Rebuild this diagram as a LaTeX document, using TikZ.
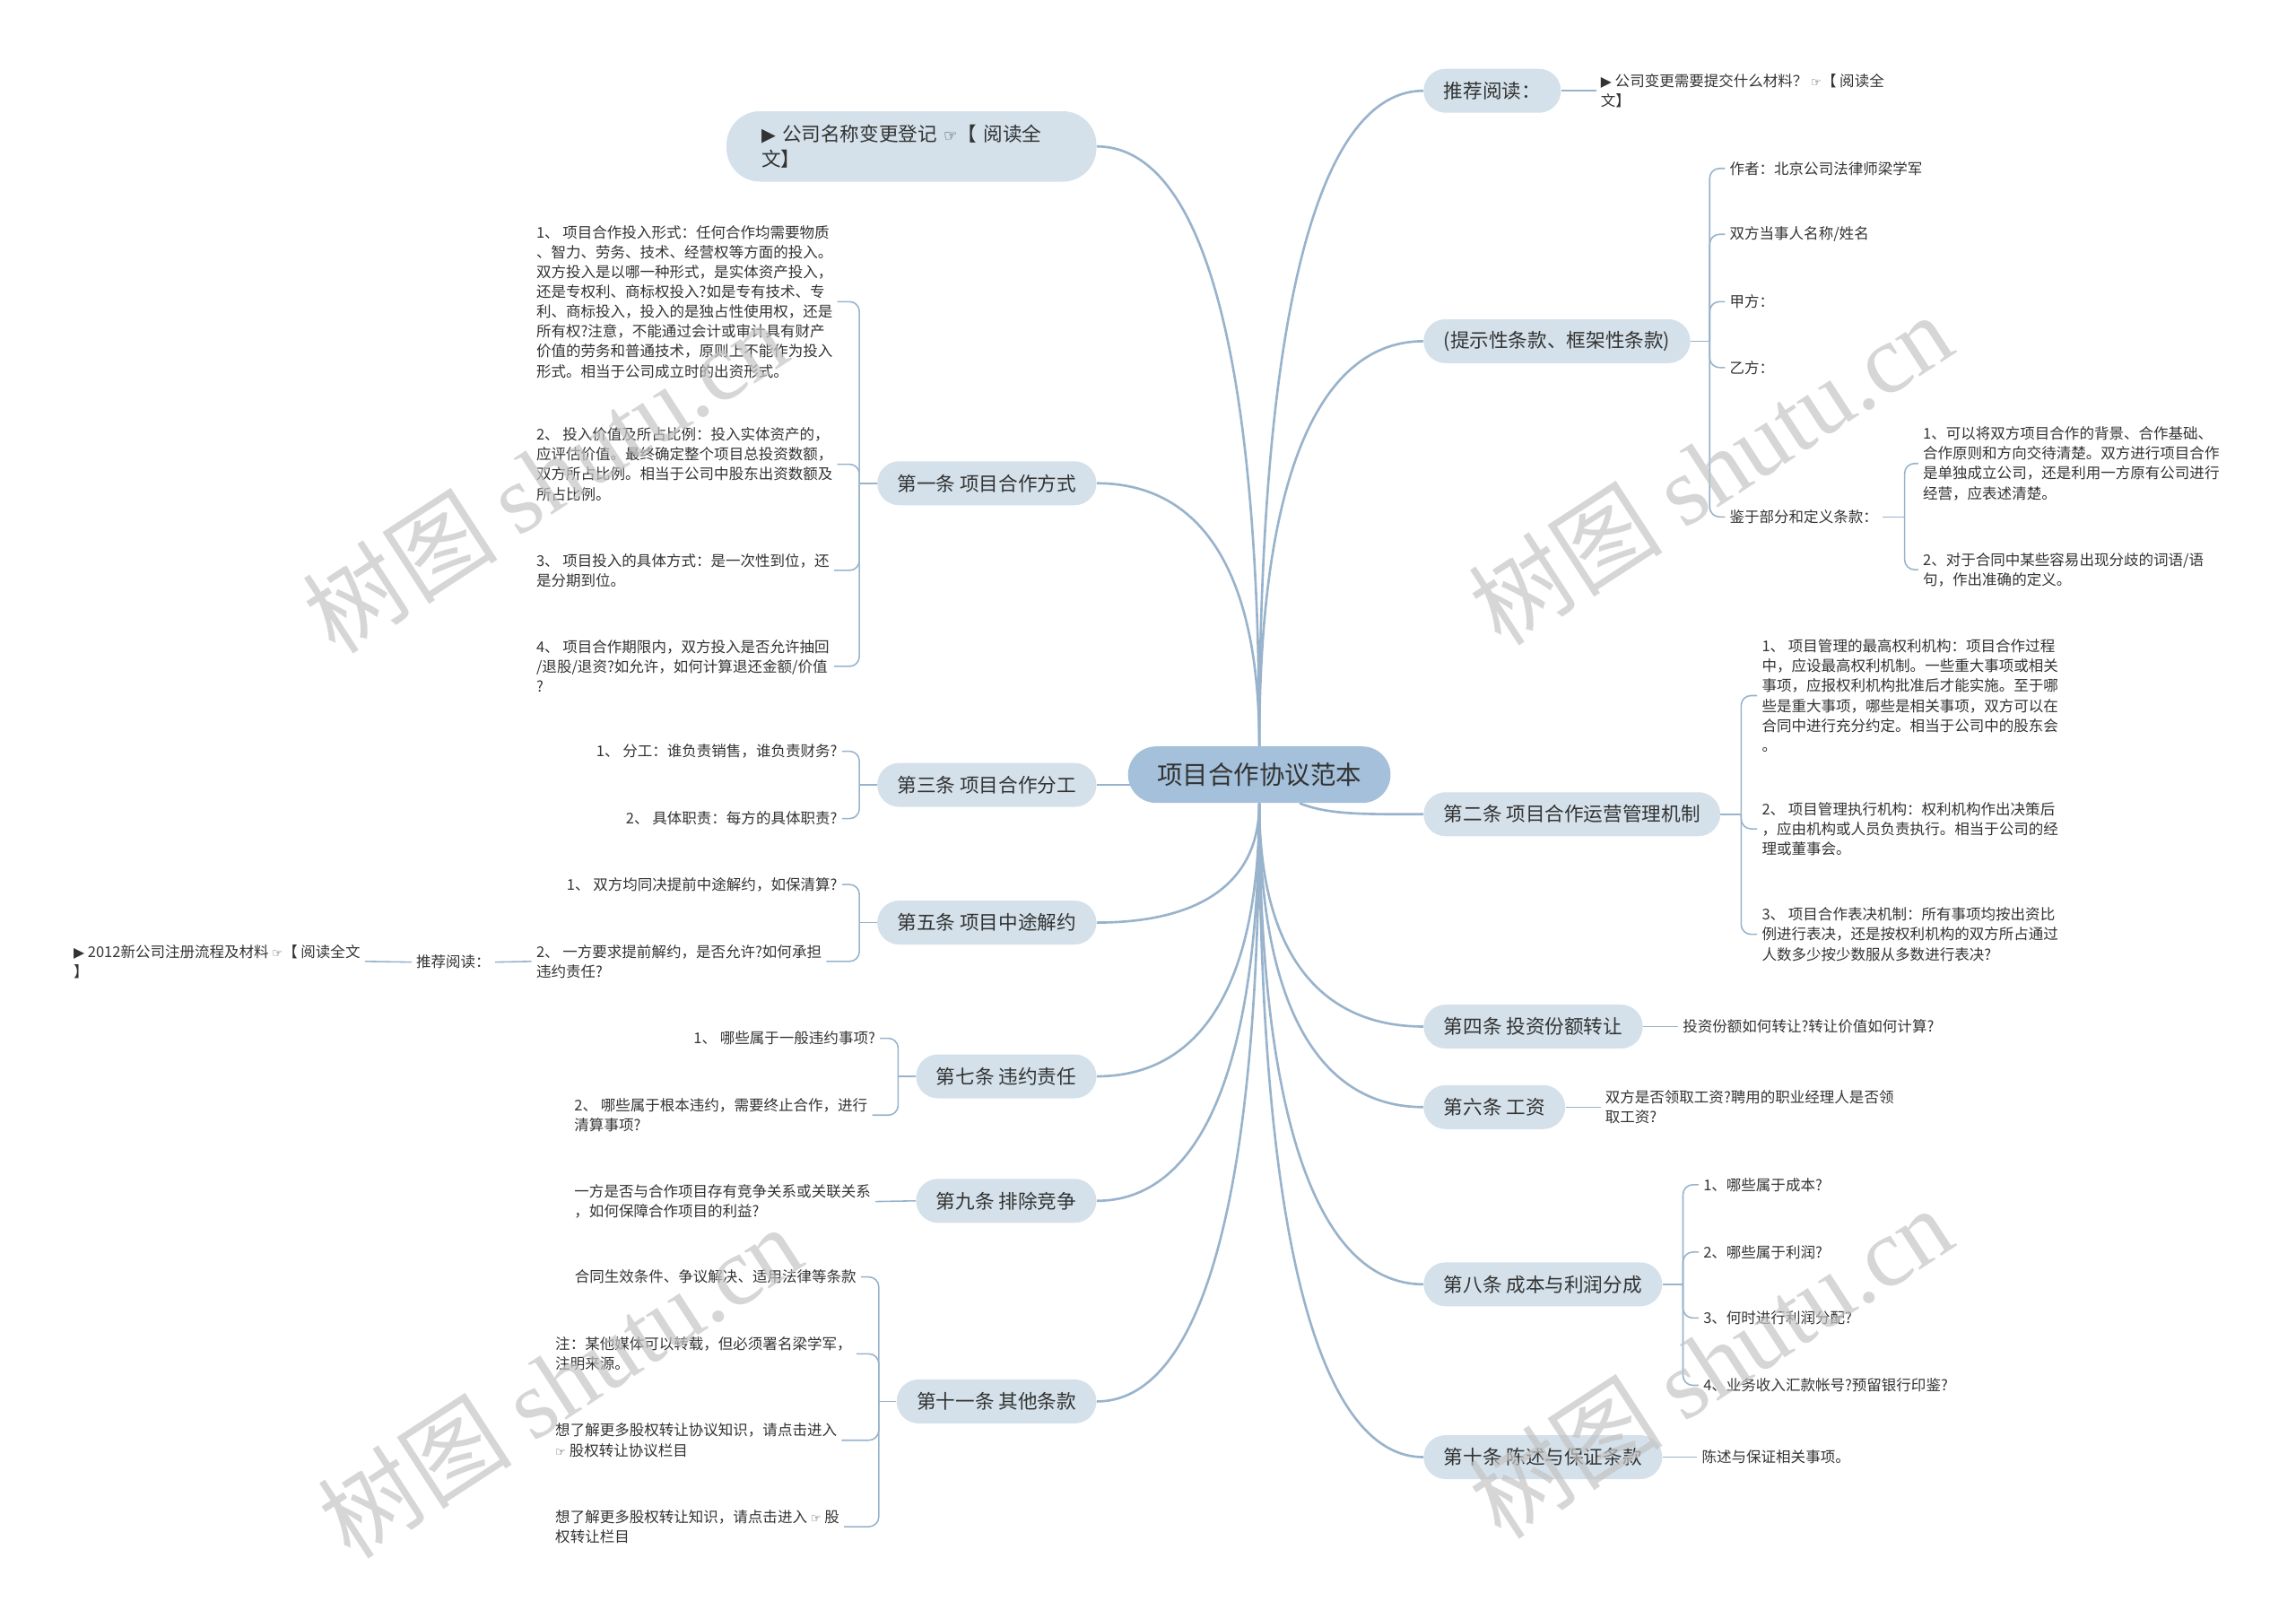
\documentclass[tikz,border=0pt]{standalone}
\usepackage{fontspec}
\setmainfont{Noto Sans CJK SC}
\newfontfamily\symf{DejaVu Sans}
\newfontfamily\wmfont{Liberation Serif}
\usetikzlibrary{positioning,backgrounds}

\definecolor{rootfill}{HTML}{A4C0DA}
\definecolor{topicfill}{HTML}{D4E1EA}
\definecolor{linkline}{HTML}{98B3CB}
\definecolor{ink}{HTML}{333333}
\definecolor{wmgray}{HTML}{C4C4C4}

\newcommand\hand{\scalebox{0.8}{\symf ☞}}
\newcommand\tri{\scalebox{0.95}{\symf ▶}}

\begin{document}
\begin{tikzpicture}[x=0.0326531cm, y=-0.0326531cm,
    rootbox/.style={fill=rootfill, rounded corners=0.63cm, minimum height=1.26cm, inner xsep=0.65cm, text=ink, font=\fontsize{16.2}{19}\selectfont},
    topicbox/.style={fill=topicfill, rounded corners=0.49cm, minimum height=0.98cm, inner xsep=0.45cm, text=ink, font=\fontsize{12.3}{15.7}\selectfont},
    leafbox/.style={align=left, inner xsep=0.1cm, inner ysep=0.05cm, text=ink, font=\fontsize{9.4}{12.6}\selectfont},
    branchline/.style={draw=linkline, line width=1.5pt},
    twigline/.style={draw=linkline, line width=0.9pt, rounded corners=0.22cm},
    wmtext/.style={text=wmgray, opacity=0.7, rotate=33, font=\fontsize{62}{62}\selectfont}
]
\useasboundingbox (0,0) rectangle (1568,1105);

% centre
\node[rootbox] (root) at (860,529) {项目合作协议范本};

% right topics
\node[topicbox, anchor=west] (read) at (972,62) {推荐阅读：};
\node[topicbox, anchor=west] (frame) at (972,233) {(提示性条款、框架性条款)};
\node[topicbox, anchor=west] (art2) at (972,556) {第二条 项目合作运营管理机制};
\node[topicbox, anchor=west] (art4) at (972,701) {第四条 投资份额转让};
\node[topicbox, anchor=west] (art6) at (972,756) {第六条 工资};
\node[topicbox, anchor=west] (art8) at (972,877) {第八条 成本与利润分成};
\node[topicbox, anchor=west] (art10) at (972,995) {第十条 陈述与保证条款};

% left topics
\node[topicbox, anchor=east, align=left, text width=6.69cm, inner xsep=0.78cm, minimum height=1.57cm, rounded corners=0.75cm] (rename) at (749,100) {\tri\ 公司名称变更登记 \hand【 阅读全\\文】};
\node[topicbox, anchor=east] (art1) at (749,330) {第一条 项目合作方式};
\node[topicbox, anchor=east] (art3) at (749,536) {第三条 项目合作分工};
\node[topicbox, anchor=east] (art5) at (749,630) {第五条 项目中途解约};
\node[topicbox, anchor=east] (art7) at (749,735) {第七条 违约责任};
\node[topicbox, anchor=east] (art9) at (749,820) {第九条 排除竞争};
\node[topicbox, anchor=east] (art11) at (749,957) {第十一条 其他条款};

% right leaves
\node[leafbox, anchor=west] (read1) at (1090,62) {\tri\ 公司变更需要提交什么材料？ \hand【 阅读全\\文】};
\node[leafbox, anchor=west] (frame1) at (1178,115) {作者：北京公司法律师梁学军};
\node[leafbox, anchor=west] (frame2) at (1178,160) {双方当事人名称/姓名};
\node[leafbox, anchor=west] (frame3) at (1178,206) {甲方：};
\node[leafbox, anchor=west] (frame4) at (1178,251) {乙方：};
\node[leafbox, anchor=west] (frame5) at (1178,353) {鉴于部分和定义条款：};
\node[leafbox, anchor=west] (frame5a) at (1310,316.5) {1、可以将双方项目合作的背景、合作基础、\\合作原则和方向交待清楚。双方进行项目合作\\是单独成立公司，还是利用一方原有公司进行\\经营，应表述清楚。};
\node[leafbox, anchor=west] (frame5b) at (1310,389) {2、对于合同中某些容易出现分歧的词语/语\\句，作出准确的定义。};
\node[leafbox, anchor=west] (art2a) at (1200,475) {1、 项目管理的最高权利机构：项目合作过程\\中，应设最高权利机制。一些重大事项或相关\\事项，应报权利机构批准后才能实施。至于哪\\些是重大事项，哪些是相关事项，双方可以在\\合同中进行充分约定。相当于公司中的股东会\\。};
\node[leafbox, anchor=west] (art2b) at (1200,566) {2、 项目管理执行机构：权利机构作出决策后\\，应由机构或人员负责执行。相当于公司的经\\理或董事会。};
\node[leafbox, anchor=west] (art2c) at (1200,638) {3、 项目合作表决机制：所有事项均按出资比\\例进行表决，还是按权利机构的双方所占通过\\人数多少按少数服从多数进行表决?};
\node[leafbox, anchor=west] (art4a) at (1146,701) {投资份额如何转让?转让价值如何计算?};
\node[leafbox, anchor=west] (art6a) at (1093,756) {双方是否领取工资?聘用的职业经理人是否领\\取工资?};
\node[leafbox, anchor=west] (art8a) at (1160,809) {1、哪些属于成本?};
\node[leafbox, anchor=west] (art8b) at (1160,855) {2、哪些属于利润?};
\node[leafbox, anchor=west] (art8c) at (1160,900) {3、何时进行利润分配?};
\node[leafbox, anchor=west] (art8d) at (1160,946) {4、业务收入汇款帐号?预留银行印鉴?};
\node[leafbox, anchor=west] (art10a) at (1159,995) {陈述与保证相关事项。};

% left leaves
\node[leafbox, anchor=west] (art1a) at (363,206) {1、 项目合作投入形式：任何合作均需要物质\\、智力、劳务、技术、经营权等方面的投入。\\双方投入是以哪一种形式，是实体资产投入，\\还是专权利、商标权投入?如是专有技术、专\\利、商标投入，投入的是独占性使用权，还是\\所有权?注意，不能通过会计或审计具有财产\\价值的劳务和普通技术，原则上不能作为投入\\形式。相当于公司成立时的出资形式。};
\node[leafbox, anchor=west] (art1b) at (363,317) {2、 投入价值及所占比例：投入实体资产的，\\应评估价值。最终确定整个项目总投资数额，\\双方所占比例。相当于公司中股东出资数额及\\所占比例。};
\node[leafbox, anchor=west] (art1c) at (363,389.5) {3、 项目投入的具体方式：是一次性到位，还\\是分期到位。};
\node[leafbox, anchor=west] (art1d) at (363,455) {4、 项目合作期限内，双方投入是否允许抽回\\/退股/退资?如允许，如何计算退还金额/价值\\?};
\node[leafbox, anchor=east] (art3a) at (575,513) {1、 分工：谁负责销售，谁负责财务?};
\node[leafbox, anchor=east] (art3b) at (575,559) {2、 具体职责：每方的具体职责?};
\node[leafbox, anchor=east] (art5a) at (575,604) {1、 双方均同决提前中途解约，如保清算?};
\node[leafbox, anchor=west] (art5b) at (363,656.5) {2、 一方要求提前解约，是否允许?如何承担\\违约责任?};
\node[leafbox, anchor=west] (read2) at (281,657) {推荐阅读：};
\node[leafbox, anchor=west] (read2a) at (47,656.5) {\tri\ 2012新公司注册流程及材料 \hand【 阅读全文\\】};
\node[leafbox, anchor=east] (art7a) at (601,709) {1、 哪些属于一般违约事项?};
\node[leafbox, anchor=west] (art7b) at (389,761.5) {2、 哪些属于根本违约，需要终止合作，进行\\清算事项?};
\node[leafbox, anchor=west] (art9a) at (389,820.5) {一方是否与合作项目存有竞争关系或关联关系\\，如何保障合作项目的利益?};
\node[leafbox, anchor=east] (art11a) at (588,872) {合同生效条件、争议解决、适用法律等条款};
\node[leafbox, anchor=west] (art11b) at (376,924.5) {注：某他媒体可以转载，但必须署名梁学军，\\注明来源。};
\node[leafbox, anchor=west] (art11c) at (376,983.5) {想了解更多股权转让协议知识，请点击进入\\\hand\ 股权转让协议栏目};
\node[leafbox, anchor=west] (art11d) at (376,1042.5) {想了解更多股权转让知识，请点击进入 \hand\ 股\\权转让栏目};

% connectors
\begin{scope}[on background layer]
\draw[branchline] (root.north) .. controls +(0,-314) and +(-67,0) .. (read.west);
\draw[branchline] (root.north) .. controls +(0,-194) and +(-67,0) .. (frame.west);
\draw[branchline] ([xshift=0.9cm]root.south) .. controls +(20,8) and +(-40,0) .. (art2.west);
\draw[branchline] (root.south) .. controls +(0,107) and +(-67,0) .. (art4.west);
\draw[branchline] (root.south) .. controls +(0,146) and +(-67,0) .. (art6.west);
\draw[branchline] (root.south) .. controls +(0,230) and +(-67,0) .. (art8.west);
\draw[branchline] (root.south) .. controls +(0,313) and +(-67,0) .. (art10.west);
\draw[branchline] (root.north) .. controls +(0,-287) and +(67,0) .. (rename.east);
\draw[branchline] (root.north) .. controls +(0,-126) and +(67,0) .. (art1.east);
\draw[branchline] (art3.east) -- (art3.east -| root.center);
\draw[branchline] (root.south) .. controls +(0,57) and +(67,0) .. (art5.east);
\draw[branchline] (root.south) .. controls +(0,131) and +(67,0) .. (art7.east);
\draw[branchline] (root.south) .. controls +(0,190) and +(67,0) .. (art9.east);
\draw[branchline] (root.south) .. controls +(0,286) and +(67,0) .. (art11.east);

\draw[twigline] (read.east) -- (read1.west);
\draw[twigline] (frame.east) -- ++(13,0) coordinate (jf);
\draw[twigline] (jf) |- (frame1.west);
\draw[twigline] (jf) |- (frame2.west);
\draw[twigline] (jf) |- (frame3.west);
\draw[twigline] (jf) |- (frame4.west);
\draw[twigline] (jf) |- (frame5.west);
\draw[twigline] (frame5.east) -- ++(15,0) coordinate (jg);
\draw[twigline] (jg) |- (frame5a.west);
\draw[twigline] (jg) |- (frame5b.west);
\draw[twigline] (art2.east) -- ++(14,0) coordinate (j2);
\draw[twigline] (j2) |- (art2a.west);
\draw[twigline] (j2) |- (art2b.west);
\draw[twigline] (j2) |- (art2c.west);
\draw[twigline] (art4.east) -- (art4a.west);
\draw[twigline] (art6.east) -- (art6a.west);
\draw[twigline] (art8.east) -- ++(14,0) coordinate (j8);
\draw[twigline] (j8) |- (art8a.west);
\draw[twigline] (j8) |- (art8b.west);
\draw[twigline] (j8) |- (art8c.west);
\draw[twigline] (j8) |- (art8d.west);
\draw[twigline] (art10.east) -- (art10a.west);

\draw[twigline] (art1.west) -- ++(-12,0) coordinate (j1);
\draw[twigline] (j1) |- (art1a.east);
\draw[twigline] (j1) |- (art1b.east);
\draw[twigline] (j1) |- (art1c.east);
\draw[twigline] (j1) |- (art1d.east);
\draw[twigline] (art3.west) -- ++(-12,0) coordinate (j3);
\draw[twigline] (j3) |- (art3a.east);
\draw[twigline] (j3) |- (art3b.east);
\draw[twigline] (art5.west) -- ++(-12,0) coordinate (j5);
\draw[twigline] (j5) |- (art5a.east);
\draw[twigline] (j5) |- (art5b.east);
\draw[twigline] (art5b.west) -- (read2.east);
\draw[twigline] (read2.west) -- (read2a.east);
\draw[twigline] (art7.west) -- ++(-12,0) coordinate (j7);
\draw[twigline] (j7) |- (art7a.east);
\draw[twigline] (j7) |- (art7b.east);
\draw[twigline] (art9.west) -- (art9a.east);
\draw[twigline] (art11.west) -- ++(-12,0) coordinate (j11);
\draw[twigline] (j11) |- (art11a.east);
\draw[twigline] (j11) |- (art11b.east);
\draw[twigline] (j11) |- (art11c.east);
\draw[twigline] (j11) |- (art11d.east);
\end{scope}

% watermark
\node[wmtext] (wm1) at (372,325) {树图 {\wmfont shutu.cn}};
\node[wmtext] (wm2) at (1168,320) {树图 {\wmfont shutu.cn}};
\node[wmtext] (wm3) at (382,943) {树图 {\wmfont shutu.cn}};
\node[wmtext] (wm4) at (1168,930) {树图 {\wmfont shutu.cn}};
\end{tikzpicture}
\end{document}
